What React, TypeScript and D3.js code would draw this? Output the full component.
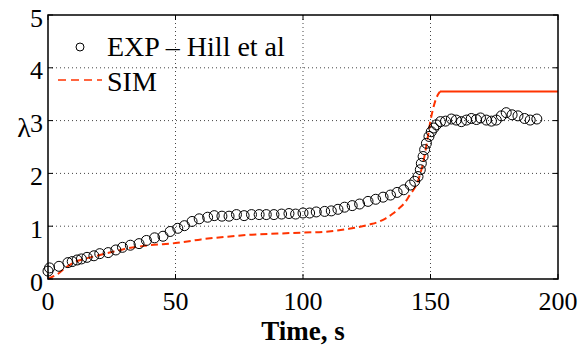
import React, { useEffect, useRef } from 'react'
import * as d3 from 'd3'

// experimental points (Hill et al)
const expTime = [
  0, 0.6, 4.3, 7.8, 9.5, 11.4, 13.1, 15.3, 18, 20.3, 23.6, 26.6, 29.2, 32.3, 35.7, 38.6, 41.8, 45.1, 47.9,
  50.9, 53.5, 56.5, 59.3, 62.6, 65.2, 68.2, 71, 73.9, 76.9, 79.8, 82.8, 85.6, 88.6, 91.6, 94.5, 97.1, 100,
  102.6, 105.2, 108.5, 111.1, 113.7, 116.3, 119.3, 122.2, 125.5, 128.5, 131.4, 134.3, 136.9, 139.5, 142.1,
  143.8, 145.1, 146, 146.4, 147.1, 147.7, 148.4, 149.4, 150.3, 151.3, 152.3, 153.9, 155.9, 158.2, 160.1,
  162.1, 164.1, 166, 168, 169.6, 171.9, 173.9, 175.8, 177.8, 179.7, 182, 184.3, 186.9, 189.1, 191.7,
]
const expLambda = [
  0.15, 0.21, 0.24, 0.31, 0.33, 0.36, 0.38, 0.41, 0.44, 0.48, 0.5, 0.55, 0.6, 0.64, 0.67, 0.73, 0.78, 0.81, 0.9,
  0.96, 1.01, 1.09, 1.14, 1.17, 1.2, 1.19, 1.19, 1.22, 1.2, 1.22, 1.22, 1.22, 1.22, 1.23, 1.24, 1.23, 1.25,
  1.25, 1.27, 1.28, 1.29, 1.32, 1.36, 1.39, 1.42, 1.47, 1.51, 1.55, 1.59, 1.64, 1.69, 1.78,
  1.85, 1.94, 2.07, 2.19, 2.32, 2.45, 2.57, 2.7, 2.79, 2.86, 2.92, 2.98, 2.99, 3.03, 3.01,
  2.98, 3.01, 3.04, 3.02, 3.05, 3.01, 2.99, 3.01, 3.09, 3.15, 3.11, 3.09, 3.04, 3.01, 3.03,
]

// simulation
const simTime = [
  0, 2, 4, 6, 10, 15, 20, 25, 30, 40, 50, 60, 70, 80, 90, 100, 110, 118, 126, 130, 132.5, 135, 137.5, 140,
  142, 144, 145, 146, 147, 148, 149, 150, 151, 152, 153, 153.7, 200,
]
const simLambda = [
  0, 0.05, 0.1, 0.18, 0.31, 0.39, 0.45, 0.51, 0.57, 0.64, 0.68, 0.75, 0.8, 0.84, 0.86, 0.88, 0.9, 0.95, 1.03,
  1.09, 1.15, 1.23, 1.33, 1.45, 1.6, 1.74, 1.84, 2.0, 2.17, 2.42, 2.7, 3.0, 3.22, 3.39, 3.5, 3.55, 3.55,
]

const xTicks = [0, 50, 100, 150, 200]
const yTicks = [0, 1, 2, 3, 4, 5]

const App = () => {
  const ref = useRef<SVGSVGElement>(null)

  useEffect(() => {
    const width = 584
    const height = 349
    const left = 48
    const right = 558
    const top = 15
    const bottom = 279
    const RED = '#FF3300'
    const FONT = '"Liberation Serif", "Times New Roman", serif'

    const svg = d3.select(ref.current)
    svg.selectAll('*').remove()
    svg.attr('width', width).attr('height', height)

    const x = d3.scaleLinear().domain([0, 200]).range([left, right])
    const y = d3.scaleLinear().domain([0, 5]).range([bottom, top])

    // grid
    const grid = svg.append('g').attr('stroke', '#444').attr('stroke-width', 1).attr('stroke-dasharray', '1 3')
    grid
      .selectAll('line.gx')
      .data(xTicks.slice(1, -1))
      .join('line')
      .attr('x1', (d) => x(d))
      .attr('x2', (d) => x(d))
      .attr('y1', top)
      .attr('y2', bottom)
    grid
      .selectAll('line.gy')
      .data(yTicks.slice(1, -1))
      .join('line')
      .attr('class', 'gy')
      .attr('x1', left)
      .attr('x2', right)
      .attr('y1', (d) => y(d))
      .attr('y2', (d) => y(d))

    // simulation line: dashed on the rise, solid on the plateau
    const sim = simTime.map((t, i) => ({ t, v: simLambda[i] }))
    const line = d3
      .line<any>()
      .x((d) => x(d.t))
      .y((d) => y(d.v))
      .curve(d3.curveMonotoneX)
    const split = sim.length - 2
    svg
      .append('path')
      .datum(sim.slice(0, split + 1))
      .attr('fill', 'none')
      .attr('stroke', RED)
      .attr('stroke-width', 2)
      .attr('stroke-dasharray', '7 4')
      .attr('d', line)
    svg
      .append('path')
      .datum(sim.slice(split))
      .attr('fill', 'none')
      .attr('stroke', RED)
      .attr('stroke-width', 2)
      .attr('d', line)

    // experimental markers
    svg
      .append('g')
      .selectAll('circle')
      .data(expTime.map((t, i) => ({ t, v: expLambda[i] })))
      .join('circle')
      .attr('cx', (d) => x(d.t))
      .attr('cy', (d) => y(d.v))
      .attr('r', 5)
      .attr('fill', 'none')
      .attr('stroke', '#000')
      .attr('stroke-width', 1)

    // frame and inward ticks
    svg
      .append('rect')
      .attr('x', left)
      .attr('y', top)
      .attr('width', right - left)
      .attr('height', bottom - top)
      .attr('fill', 'none')
      .attr('stroke', '#000')
      .attr('stroke-width', 1.5)
    const ticks = svg.append('g').attr('stroke', '#000').attr('stroke-width', 1)
    xTicks.forEach((t) => {
      ticks.append('line').attr('x1', x(t)).attr('x2', x(t)).attr('y1', bottom).attr('y2', bottom - 5)
      ticks.append('line').attr('x1', x(t)).attr('x2', x(t)).attr('y1', top).attr('y2', top + 5)
    })
    yTicks.forEach((t) => {
      ticks.append('line').attr('x1', left).attr('x2', left + 5).attr('y1', y(t)).attr('y2', y(t))
      ticks.append('line').attr('x1', right).attr('x2', right - 5).attr('y1', y(t)).attr('y2', y(t))
    })

    // tick labels
    const labels = svg.append('g').attr('font-family', FONT).attr('font-size', 26).attr('fill', '#000')
    labels
      .selectAll('text.xl')
      .data(xTicks)
      .join('text')
      .attr('x', (d) => x(d))
      .attr('y', bottom + 31)
      .attr('text-anchor', 'middle')
      .text((d) => d)
    labels
      .selectAll('text.yl')
      .data(yTicks)
      .join('text')
      .attr('class', 'yl')
      .attr('x', left - 5)
      .attr('y', (d) => y(d) + 11.5)
      .attr('text-anchor', 'end')
      .text((d) => d)

    // axis titles
    svg
      .append('text')
      .attr('x', (left + right) / 2)
      .attr('y', 340)
      .attr('text-anchor', 'middle')
      .attr('font-family', FONT)
      .attr('font-size', 27)
      .attr('font-weight', 'bold')
      .text('Time, s')
    svg
      .append('text')
      .attr('x', 24)
      .attr('y', 137)
      .attr('text-anchor', 'middle')
      .attr('font-family', FONT)
      .attr('font-size', 28)
      .text('λ')

    // legend
    const legend = svg.append('g').attr('font-family', FONT).attr('font-size', 28)
    legend
      .append('circle')
      .attr('cx', 80)
      .attr('cy', 47)
      .attr('r', 4)
      .attr('fill', 'none')
      .attr('stroke', '#000')
    legend.append('text').attr('x', 107).attr('y', 56).text('EXP – Hill et al')
    legend
      .append('line')
      .attr('x1', 58)
      .attr('x2', 102)
      .attr('y1', 80)
      .attr('y2', 80)
      .attr('stroke', RED)
      .attr('stroke-width', 1.5)
      .attr('stroke-dasharray', '8 5')
    legend.append('text').attr('x', 107).attr('y', 91).text('SIM')
  }, [])

  return <svg ref={ref} style={{ position: 'absolute', left: 0, top: 0 }} />
}

export default App
